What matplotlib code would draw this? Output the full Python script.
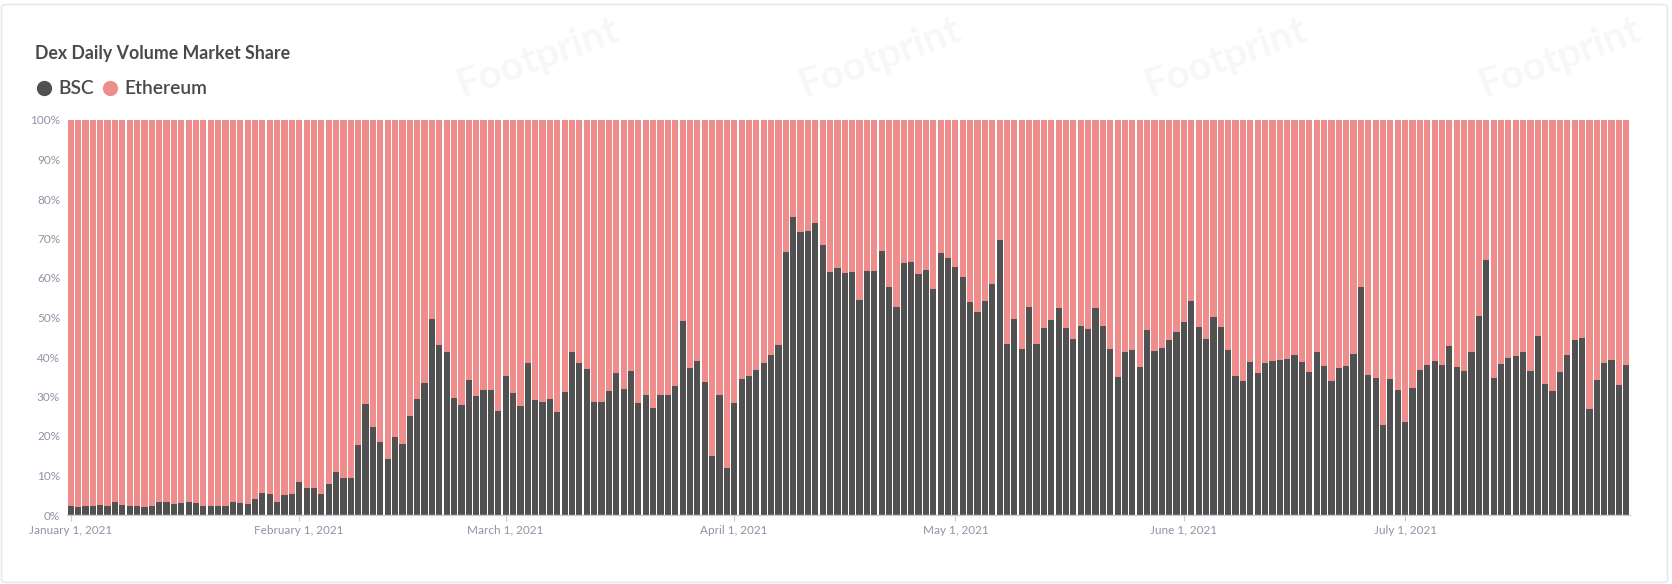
import matplotlib
matplotlib.use("Agg")
import matplotlib.pyplot as plt
from matplotlib.lines import Line2D
from matplotlib.patches import FancyBboxPatch
import pandas as pd
import numpy as np

# ---- data (share of DEX daily volume, %) ----
start_date = "2021-01-01"
bsc_share = [
    2.3, 1.9, 2.3, 2.3, 2.5, 2.3, 3.3, 2.5, 2.3, 2.3, 1.9, 2.3, 3.3, 3.3, 2.8, 3.0, 3.3, 3.0, 2.3, 2.3, 2.3,
    2.4, 3.2, 3.0, 2.7, 4.0, 5.5, 5.3, 3.2, 5.0, 5.2, 8.4, 6.8, 6.8, 5.2, 7.8, 10.8, 9.3, 9.3, 17.7, 28.0,
    22.2, 18.4, 14.3, 19.7, 17.9, 25.1, 29.3, 33.3, 49.6, 43.0, 41.2, 29.6, 27.8, 34.2, 30.1, 31.6, 31.6, 26.3, 35.2,
    30.8, 27.6, 38.4, 29.1, 28.5, 29.3, 26.0, 31.1, 41.2, 38.6, 37.0, 28.5, 28.5, 31.4, 35.9, 31.8, 36.4, 28.3, 30.3, 27.0, 30.5,
    30.5, 32.7, 49.1, 37.2, 39.0, 33.7, 14.9, 30.4, 11.8, 28.4, 34.4, 35.2, 36.7, 38.6, 40.5, 43.0, 66.6, 75.4, 71.6, 71.9, 73.9,
    68.4, 61.4, 62.5, 61.2, 61.4, 54.4, 61.8, 61.8, 66.8, 57.7, 52.7, 63.8, 64.1, 61.0, 62.0, 57.2, 66.3, 65.1, 62.8, 60.3,
    53.9, 51.4, 54.2, 58.5, 69.6, 43.3, 49.6, 42.0, 52.7, 43.3, 47.3, 49.4, 52.4, 47.3, 44.6, 47.8, 47.1, 52.4, 47.8, 42.0, 34.9,
    41.3, 41.8, 37.5, 46.8, 41.5, 42.3, 44.3, 46.3, 48.9, 54.2, 47.6, 44.6, 50.1, 47.6, 41.8, 35.2, 33.9, 38.7, 35.9, 38.5, 39.0,
    39.2, 39.5, 40.5, 38.7, 36.2, 41.3, 37.7, 33.9, 37.2, 37.7, 40.8, 57.7, 35.4, 34.8, 22.8, 34.4, 31.6, 23.5, 32.2, 36.7,
    38.0, 39.0, 38.0, 42.8, 37.5, 36.5, 41.3, 50.4, 64.6, 34.7, 38.2, 39.7, 40.3, 41.3, 36.5, 45.3, 33.2, 31.4, 36.2, 40.5,
    44.3, 44.8, 26.8, 34.2, 38.5, 39.2, 32.9, 38.0,
]
series_names = ["BSC", "Ethereum"]
tick_dates = ["2021-01-01", "2021-02-01", "2021-03-01", "2021-04-01",
              "2021-05-01", "2021-06-01", "2021-07-01"]
ytick_values = [0, 10, 20, 30, 40, 50, 60, 70, 80, 90, 100]
title_text = "Dex Daily Volume Market Share"
watermark_text = "Footprint"

dates = pd.date_range(start_date, periods=len(bsc_share), freq="D")
bsc = np.array(bsc_share)
eth = 100.0 - bsc  # stacked to 100%

# ---- style ----
C_BSC = "#515151"
C_ETH = "#EF8C8C"
C_TICK = "#8E94A6"
C_TEXT = "#4A4A4A"
plt.rcParams["font.family"] = ["Lato", "DejaVu Sans"]

W, H = 1672, 584
fig = plt.figure(figsize=(W / 100, H / 100), dpi=100)
fig.patch.set_facecolor("white")

# card border
card = FancyBboxPatch((1.5 / W, 1.5 / H), (W - 6) / W, (H - 6) / H,
                      boxstyle="round,pad=0,rounding_size=0.004",
                      transform=fig.transFigure, fill=False,
                      edgecolor="#E6E8EC", linewidth=1.2, zorder=0)
fig.patches.append(card)

# faint watermarks
for wx in [538, 880, 1226, 1560]:
    fig.text(wx / W, 1 - 58 / H, watermark_text, rotation=20, ha="center", va="center",
             fontsize=29, fontweight="bold", color="#000000", alpha=0.035, zorder=0)

ax_left, ax_right = 67, 1630
ax_top, ax_bottom = 120, 515
ax = fig.add_axes([ax_left / W, 1 - ax_bottom / H, (ax_right - ax_left) / W,
                   (ax_bottom - ax_top) / H])
ax.set_facecolor("none")

bw = 0.84
ax.bar(dates, bsc, width=bw, color=C_BSC, linewidth=0, zorder=3)
ax.bar(dates, eth, width=bw, bottom=bsc, color=C_ETH, linewidth=0, zorder=3)

ax.set_xlim(dates[0] - pd.Timedelta(hours=12), dates[-1] + pd.Timedelta(hours=12))
ax.set_ylim(0, 100)

ax.set_yticks(ytick_values)
ax.set_yticklabels([f"{v}%" for v in ytick_values])
tpos = pd.to_datetime(tick_dates)
ax.set_xticks(tpos)
ax.set_xticklabels([d.strftime("%B ") + str(d.day) + d.strftime(", %Y") for d in tpos])

ax.tick_params(axis="y", length=0, pad=5, labelsize=8.5, labelcolor=C_TICK)
ax.tick_params(axis="x", length=4, width=0.8, color="#C8CBD3", pad=3,
               labelsize=8.5, labelcolor=C_TICK)
for s in ["top", "right", "left"]:
    ax.spines[s].set_visible(False)
ax.spines["bottom"].set_color("#C8CBD3")
ax.spines["bottom"].set_linewidth(1.0)
ax.spines["bottom"].set_zorder(4)

# title
fig.text(35 / W, 1 - 53 / H, title_text, ha="left", va="center",
         fontsize=12.8, fontweight="bold", color=C_TEXT)

# legend
handles = [Line2D([], [], marker="o", linestyle="none", markersize=11,
                  markerfacecolor=c, markeredgewidth=0)
           for c in (C_BSC, C_ETH)]
leg = fig.legend(handles, series_names, loc="center left",
                 bbox_to_anchor=(38 / W, 1 - 89 / H), ncol=2, frameon=False,
                 handlelength=0.6, handletextpad=0.45, columnspacing=0.55,
                 borderpad=0, borderaxespad=0,
                 prop={"size": 13.8, "weight": "semibold"})
for t in leg.get_texts():
    t.set_color(C_TEXT)

fig.savefig("out.png", dpi=100, facecolor="white")
